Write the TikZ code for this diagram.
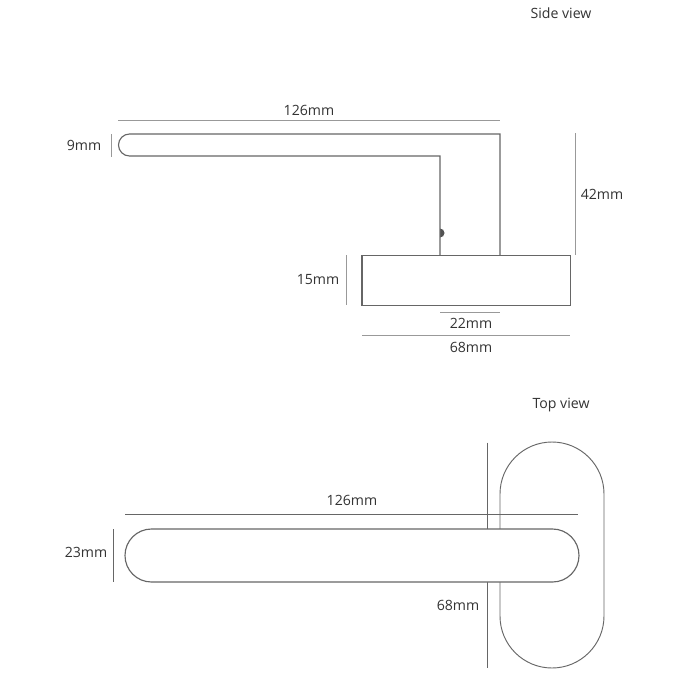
\documentclass[tikz,border=0pt]{standalone}
\usepackage{fontspec}
\setmainfont{Open Sans}
\definecolor{outl}{HTML}{666666}
\definecolor{dim}{HTML}{999999}
\definecolor{lbl}{HTML}{333333}
\tikzset{
  shape line/.style={draw=outl,line width=0.85pt,line join=miter},
  dim line/.style={draw=dim,line width=0.75pt},
  dim dark/.style={draw=outl,line width=0.65pt},
  lbl text/.style={text=lbl,font=\fontsize{10.6pt}{12pt}\selectfont,inner sep=0pt,anchor=center}
}
\begin{document}
\begin{tikzpicture}[x=0.75pt,y=-0.75pt]
\useasboundingbox (0,0) rectangle (700,700);
\fill[white] (0,0) rectangle (700,700);
% Side view
\node[lbl text] (side) at (561,13) {Side view};
\draw[dim line] (118,120) -- (500,120);
\node[lbl text] (a126) at (309,110.5) {126mm};
\draw[dim line] (111,134) -- (111,157);
\node[lbl text] (a9) at (84,145) {9mm};
\draw[dim line] (575,133) -- (575,255);
\node[lbl text] (a42) at (602,194) {42mm};
\draw[dim line] (346,255) -- (346,305);
\node[lbl text] (a15) at (318,280) {15mm};
\draw[dim line] (440,312) -- (500,312);
\node[lbl text] (a22) at (471,323) {22mm};
\draw[dim line] (362,335) -- (570,335);
\node[lbl text] (a68) at (471,347) {68mm};
\fill[outl!80!black] (440,228.5) arc (-90:90:4.5) -- cycle;
\draw[shape line] (440,255) -- (440,156) -- (129.5,156) arc (90:270:11) -- (500,134) -- (500,255);
\draw[shape line] (362,255.5) rectangle (570.5,305.5);
% Top view
\node[lbl text] (top) at (561,405) {Top view};
\draw[dim dark] (487,442.5) -- (487,668);
\draw[dim dark] (125,514.5) -- (578,514.5);
\node[lbl text] (b126) at (352,500) {126mm};
\draw[dim dark] (113,529) -- (113,582);
\node[lbl text] (b23) at (86,552) {23mm};
\node[lbl text] (b68) at (458,605) {68mm};
\draw[shape line,line width=0.7pt] (500,494) arc (180:360:52) -- (604,616) arc (0:180:52) -- cycle;
\draw[shape line,fill=white] (151.5,529) -- (552.5,529) arc (-90:90:26.5) -- (151.5,582) arc (90:270:26.5) -- cycle;
\end{tikzpicture}
\end{document}
